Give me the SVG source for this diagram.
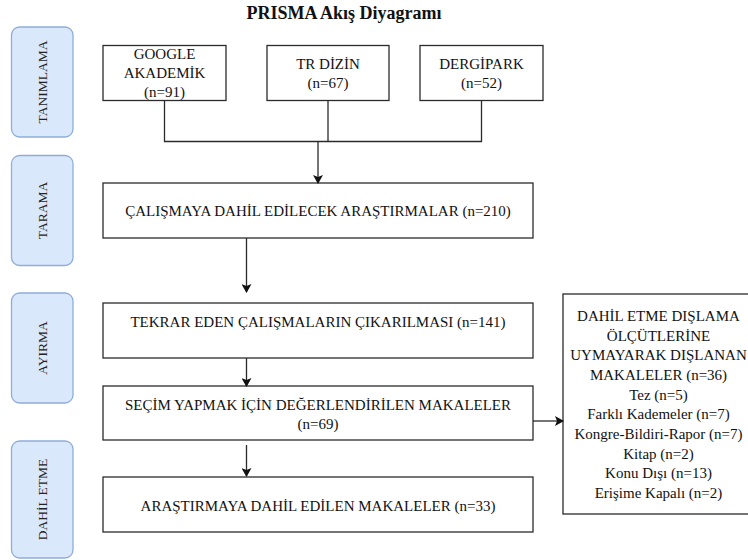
<svg xmlns="http://www.w3.org/2000/svg" width="748" height="560" viewBox="0 0 748 560">
<style>
.bg{fill:#ffffff}
.lane{fill:#dae8fc;stroke:#8fadda;stroke-width:1.3}
.lane-t{font-family:"Liberation Serif","Times New Roman",serif;font-size:13.5px;fill:#222;text-anchor:middle;dominant-baseline:central}
.box{fill:#ffffff;stroke:#2b2b2b;stroke-width:1.3}
.t{font-family:"Liberation Serif","Times New Roman",serif;font-size:15px;fill:#111;text-anchor:middle}
.title{font-family:"Liberation Serif","Times New Roman",serif;font-size:18px;font-weight:bold;fill:#111;text-anchor:middle}
.conn{fill:none;stroke:#2b2b2b;stroke-width:1.3}
</style>
<defs>
<marker id="arr" markerUnits="userSpaceOnUse" markerWidth="10" markerHeight="10" refX="8" refY="5" orient="auto">
<path d="M0,0 L9,5 L0,10 L2,5 z" fill="#111"/>
</marker>
</defs>
<rect class="bg" x="0" y="0" width="748" height="560"/>
<text class="title" x="344" y="19">PRISMA Akış Diyagramı</text>

<g id="lane-tanimlama">
<rect class="lane" x="11.5" y="27" width="61.5" height="110" rx="8"/>
<text class="lane-t" transform="translate(42.5,82) rotate(-90)">TANIMLAMA</text>
</g>
<g id="lane-tarama">
<rect class="lane" x="11.5" y="155.5" width="61.5" height="110" rx="8"/>
<text class="lane-t" transform="translate(42.5,210.5) rotate(-90)">TARAMA</text>
</g>
<g id="lane-ayirma">
<rect class="lane" x="11.5" y="293" width="61.5" height="110" rx="8"/>
<text class="lane-t" transform="translate(42.5,348) rotate(-90)">AYIRMA</text>
</g>
<g id="lane-dahil">
<rect class="lane" x="11.5" y="441" width="61.5" height="117" rx="8"/>
<text class="lane-t" transform="translate(42.5,499.5) rotate(-90)">DAHİL ETME</text>
</g>

<g id="google">
<rect class="box" x="103" y="45.5" width="123" height="55"/>
<text class="t" x="164.5" y="58.5">GOOGLE</text>
<text class="t" x="164.5" y="78">AKADEMİK</text>
<text class="t" x="164.5" y="97">(n=91)</text>
</g>
<g id="trdizin">
<rect class="box" x="267" y="45.5" width="122" height="55"/>
<text class="t" x="328" y="68.5">TR DİZİN</text>
<text class="t" x="328" y="88">(n=67)</text>
</g>
<g id="dergipark">
<rect class="box" x="420" y="45.5" width="123" height="55"/>
<text class="t" x="481.5" y="68.5">DERGİPARK</text>
<text class="t" x="481.5" y="88">(n=52)</text>
</g>

<g id="dahil-edilecek">
<rect class="box" x="103" y="183" width="430" height="55"/>
<text class="t" x="318" y="215.5">ÇALIŞMAYA DAHİL EDİLECEK ARAŞTIRMALAR (n=210)</text>
</g>
<g id="tekrar">
<rect class="box" x="103" y="303" width="430" height="55"/>
<text class="t" x="318" y="327">TEKRAR EDEN ÇALIŞMALARIN ÇIKARILMASI (n=141)</text>
</g>
<g id="secim">
<rect class="box" x="103" y="386" width="430" height="54"/>
<text class="t" x="318" y="409.5">SEÇİM YAPMAK İÇİN DEĞERLENDİRİLEN MAKALELER</text>
<text class="t" x="318" y="429">(n=69)</text>
</g>
<g id="dahil-edilen">
<rect class="box" x="103" y="477" width="430" height="55"/>
<text class="t" x="318" y="510.5">ARAŞTIRMAYA DAHİL EDİLEN MAKALELER (n=33)</text>
</g>
<g id="dislanan">
<rect class="box" x="563" y="294" width="200" height="220"/>
<text class="t" x="658.5" y="321">DAHİL ETME DIŞLAMA</text>
<text class="t" x="658.5" y="340.7">ÖLÇÜTLERİNE</text>
<text class="t" x="658.5" y="360.3">UYMAYARAK DIŞLANAN</text>
<text class="t" x="658.5" y="380">MAKALELER (n=36)</text>
<text class="t" x="658.5" y="399.7">Tez (n=5)</text>
<text class="t" x="658.5" y="419.3">Farklı Kademeler (n=7)</text>
<text class="t" x="658.5" y="439">Kongre-Bildiri-Rapor (n=7)</text>
<text class="t" x="658.5" y="458.7">Kitap (n=2)</text>
<text class="t" x="658.5" y="478.3">Konu Dışı (n=13)</text>
<text class="t" x="658.5" y="498">Erişime Kapalı (n=2)</text>
</g>

<g id="connectors">
<path class="conn" d="M164.5,100.5 V141.5 H481.5 V100.5"/>
<path class="conn" d="M328,100.5 V141.5"/>
<path class="conn" d="M318,141.5 V183" marker-end="url(#arr)"/>
<path class="conn" d="M246.5,238 V292" marker-end="url(#arr)"/>
<path class="conn" d="M246.5,358 V386" marker-end="url(#arr)"/>
<path class="conn" d="M246.5,445 V476" marker-end="url(#arr)"/>
<path class="conn" d="M533,421 H563" marker-end="url(#arr)"/>
</g>
</svg>
